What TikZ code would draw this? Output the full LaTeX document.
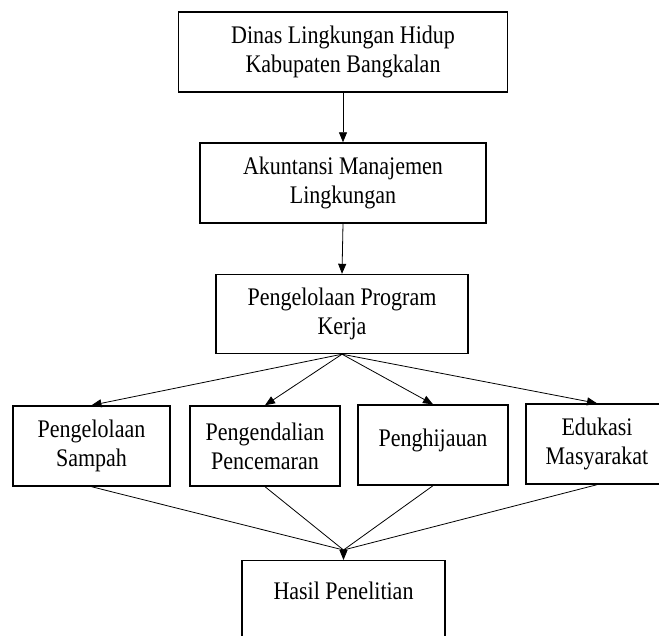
\documentclass[tikz,border=0pt]{standalone}
\usepackage{fontspec}
\setmainfont{Liberation Serif}[FakeStretch=0.87]
\usetikzlibrary{arrows.meta,calc}

\begin{document}
\begin{tikzpicture}[x=1pt,y=-1pt,
    kotak/.style={draw,line width=1.4pt,align=center,inner sep=0pt,
        minimum height=80pt,font=\fontsize{25.3}{29}\selectfont},
    panah/.style={line width=0.8pt,-{Triangle[length=10pt,width=8pt]}},
    garis/.style={line width=0.8pt}]
    %initialisation
    \useasboundingbox (0,0) rectangle (659,636);
    \clip (0,0) rectangle (659,636);
    %definitions
    \node[kotak,minimum width=329pt] (dinas) at (343,52) {Dinas Lingkungan Hidup\\Kabupaten Bangkalan};
    \node[kotak,minimum width=286pt] (akun) at (343,183) {Akuntansi Manajemen\\Lingkungan};
    \node[kotak,minimum width=252pt,minimum height=79pt] (prog) at (342,314) {Pengelolaan Program\\Kerja};
    \node[kotak,minimum width=157pt] (sampah) at (91.5,446) {Pengelolaan\\Sampah};
    \node[kotak,minimum width=150pt] (cemar) at (265,446) {Pengendalian\\Pencemaran};
    \node[kotak,minimum width=150pt,text depth=14pt] (hijau) at (433,445) {Penghijauan};
    \node[kotak,minimum width=142pt] (edu) at (597,444) {Edukasi\\Masyarakat};
    \node[kotak,minimum width=203pt,minimum height=90pt,text depth=29pt,anchor=north] (hasil) at (343.5,560) {Hasil Penelitian};
    \coordinate (temu) at ($(hasil.north)+(0,-10)$);
    %drawing
    \draw[panah] (dinas.south) -- (akun.north);
    \draw[panah] (akun.south) -- (prog.north);
    \draw[panah] (prog.south) -- (sampah.north);
    \draw[panah] (prog.south) -- (cemar.north);
    \draw[panah] (prog.south) -- (hijau.north);
    \draw[panah] (prog.south) -- (edu.north);
    \draw[garis] (sampah.south) -- (temu);
    \draw[garis] (cemar.south) -- (temu);
    \draw[garis] (hijau.south) -- (temu);
    \draw[garis] (edu.south) -- (temu);
    \draw[panah] (temu) -- (hasil.north);
\end{tikzpicture}
\end{document}
